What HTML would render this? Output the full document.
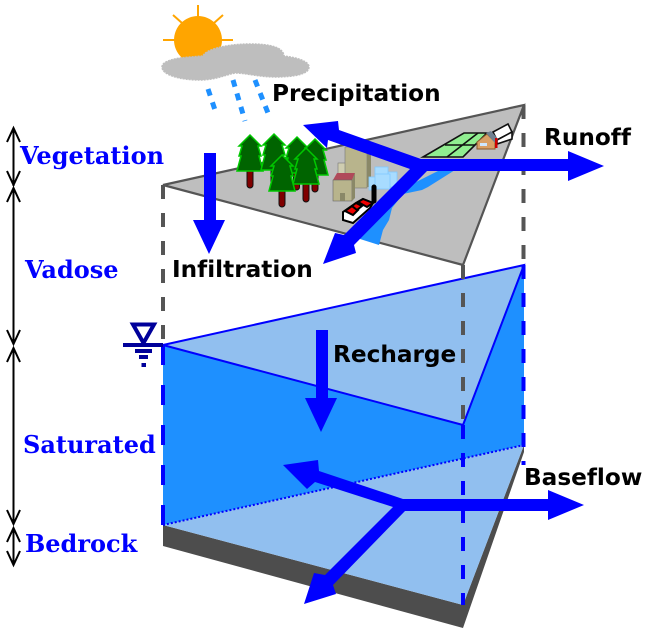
<!DOCTYPE html>
<html>
<head>
<meta charset="utf-8">
<style>
html,body{margin:0;padding:0;background:#fff}
svg{display:block}
.l{font-family:"DejaVu Sans","Liberation Sans",sans-serif;font-weight:bold;font-size:23.2px;fill:#000;font-variant-ligatures:none}
.z{font-family:"DejaVu Serif","Liberation Serif",serif;font-weight:bold;font-size:24px;fill:#0000ff;font-variant-ligatures:none}
</style>
</head>
<body>
<svg width="649" height="636" viewBox="0 0 649 636" xmlns="http://www.w3.org/2000/svg">
<defs>
<g id="t1">
<path d="M0,0 L11,11 L8,11 L11,21 L9,21 L13,36 L-13,36 L-9,21 L-11,21 L-8,11 L-11,11 Z" fill="#006400" stroke="#00c800" stroke-width="1.5"/>
</g>
</defs>

<!-- bedrock -->
<polygon points="163,525 463,605 524,445 524,452 463,628 163,546" fill="#4d4d4d"/>
<!-- bottom plane -->
<polygon points="163,525 524,445 463,605" fill="#91bfef"/>
<!-- saturated -->
<polygon points="163,345 463,425 524,265 524,445 163,525" fill="#1e90ff"/>
<!-- water table -->
<polygon points="163,345 524,265 463,425" fill="#91bfef" stroke="#0000ff" stroke-width="2"/>
<line x1="163" y1="525" x2="524" y2="445" stroke="#0000ff" stroke-width="2" stroke-dasharray="2 2"/>

<!-- grey dashes -->
<g stroke="#555" stroke-width="4" fill="none">
<line x1="163" y1="185" x2="163" y2="345" stroke-dasharray="14 14"/>
<line x1="463" y1="265" x2="463" y2="425" stroke-dasharray="14 14"/>
<line x1="523.500" y1="105" x2="523.500" y2="265" stroke-dasharray="14 14"/>
</g>
<!-- blue dashes -->
<g stroke="#0000ff" stroke-width="4" fill="none">
<line x1="163" y1="345" x2="163" y2="527" stroke-dasharray="20 20"/>
<line x1="463" y1="425" x2="463" y2="605" stroke-dasharray="14 14"/>
<line x1="523.500" y1="265" x2="523.500" y2="465" stroke-dasharray="14 14"/>
</g>

<!-- top surface -->
<polygon points="163,185 524,105 463,265" fill="#bebebe" stroke="#555" stroke-width="2.2"/>

<!-- river -->
<polygon points="440,170 455,170 428,187 422,190 403,194 392,208 389,220 383,230 379,245 360,239 400,190 420,180" fill="#1e90ff"/>

<!-- field -->
<polygon points="464,133 487,133 463,157 423,157" fill="#90ee90" stroke="#111" stroke-width="1.6"/>
<path d="M445,145 H475 M447,157 L478,133" stroke="#111" stroke-width="1.6" fill="none"/>
<g stroke="#111" stroke-width="1.6" fill="#fff">
<polygon points="493,132 508,124 512,132 497,140"/>
<polygon points="497,140 512,132 512,139 497,144"/>
</g>
<polygon points="477,142 487,134 495,142 495,149 477,149" fill="#d9a066" stroke="#8b5a2b" stroke-width="1"/>
<polygon points="486,133 491,131 498,139 495,143" fill="#708090"/>
<rect x="480" y="143" width="7" height="3" fill="#cfe8ff"/>
<rect x="495" y="138" width="2.500" height="10" fill="#d00000"/>

<!-- buildings -->
<rect x="338" y="163" width="8" height="14" fill="#cfcdb0" stroke="#777" stroke-width=".6"/>
<rect x="345" y="147" width="22" height="41" fill="#b8b48c" stroke="#777" stroke-width=".6"/>
<rect x="367" y="150" width="4" height="37" fill="#8a8868"/>
<polygon points="337,173 355,173 352,180 333,180" fill="#b04a5a"/>
<rect x="333" y="180" width="19" height="21" fill="#b8b48c" stroke="#666" stroke-width=".6"/>
<polygon points="352,180 355,173 355,198 352,201" fill="#8a8868"/>
<rect x="340" y="193" width="5" height="8" fill="#8a8868"/>
<g fill="#a8dcff" stroke="#80c8ff" stroke-width=".8">
<rect x="369" y="177" width="7" height="13"/>
<rect x="388" y="172" width="9" height="15"/>
<rect x="375" y="167" width="13" height="8"/>
<rect x="375" y="174" width="15" height="15"/>
</g>
<line x1="374" y1="187" x2="374" y2="201" stroke="#000" stroke-width="5" stroke-linecap="round"/>
<g stroke="#000" stroke-width="2">
<polygon points="343,212 343,220 353,223 370,208 373,203 363,199 356,203" fill="#fff"/>
<polygon points="345,211 352,206 358,210 353,215" fill="#f00000"/>
<polygon points="356,203 362,206 357,210 352,206" fill="#f00000"/>
<polygon points="363,199 373,203 367,207 358,202" fill="#f00000"/>
</g>

<!-- trees -->
<rect x="247" y="165" width="6" height="23" rx="3" fill="#800000" stroke="#111"/>
<use href="#t1" x="250" y="135"/>
<rect x="271" y="165" width="6" height="24" rx="3" fill="#800000" stroke="#111"/>
<use href="#t1" x="274" y="134"/>
<rect x="293.500" y="167" width="6" height="23" rx="3" fill="#800000" stroke="#111"/>
<use href="#t1" x="297" y="137"/>
<rect x="312" y="170" width="6" height="22" rx="3" fill="#800000" stroke="#111"/>
<use href="#t1" x="315" y="139"/>
<rect x="303" y="180" width="6" height="22" rx="3" fill="#800000" stroke="#111"/>
<use href="#t1" x="306" y="148"/>
<rect x="279" y="185" width="6" height="22" rx="3" fill="#800000" stroke="#111"/>
<use href="#t1" x="282" y="155"/>

<!-- sun -->
<circle cx="198" cy="40" r="24" fill="#ffa500"/>
<g stroke="#ffa500" stroke-width="2">
<line x1="198" y1="5" x2="198" y2="20"/>
<line x1="163" y1="40" x2="178" y2="40"/>
<line x1="218" y1="40" x2="233" y2="40"/>
<line x1="173" y1="15" x2="182" y2="23"/>
<line x1="223" y1="15" x2="214" y2="23"/>
</g>
<!-- cloud -->
<path d="M162,67 C162,61 175,58 190,57 L203,56 C205,50 225,44 250,44 C270,44 283,47 284,56 C300,58 309,62 309,67 C309,74 295,77 275,77 C260,77 245,73 235,73 C225,75 215,80 200,80 C180,80 162,75 162,67 Z" fill="#bebebe" stroke="#bebebe" stroke-width="1.500" stroke-dasharray="2 1"/>
<!-- rain -->
<g stroke="#1e90ff" stroke-width="5" fill="none" stroke-dasharray="7 7">
<line x1="208" y1="89" x2="215" y2="110"/>
<line x1="233" y1="80" x2="245" y2="121"/>
<line x1="255" y1="80" x2="268" y2="113"/>
</g>

<!-- arrows -->
<g fill="#0000ff">
<polygon points="204,153 216,153 216,220 225,220 209,254 193,220 204,220"/>
<polygon points="316,330 328,330 328,398 337,398 321,432 305,398 316,398"/>
<polygon points="303,125 338,121 339,130 421,159 568,159 568,151 604,166 568,181 568,171 427,171 354,245 356,253 323,264 335,233 344,235 410,169 328,140 327,148"/>
<polygon points="283,465 318,460 319,471 403,499 548,499 548,490 584,505 548,520 548,511 405,511 333,585 336,594 304,604 314,573 325,575 393,507 315,482 307,489"/>
</g>

<!-- water table symbol -->
<g fill="#00009a">
<polygon points="133,324.500 154,324.500 143.500,343" fill="none" stroke="#00009a" stroke-width="4"/>
<rect x="123" y="343" width="40" height="4"/>
<rect x="135" y="349" width="17" height="4"/>
<rect x="139" y="355" width="9" height="4"/>
<rect x="141.500" y="363" width="4.500" height="4"/>
</g>

<!-- dimension arrows -->
<g stroke="#000" stroke-width="2" fill="none">
<path d="M13.500,128 V186 M7,142 L13.500,128 L20,142 M7,171 L13.500,185 L20,171"/>
<path d="M13.500,188 V344 M7,202 L13.500,188 L20,202 M7,330 L13.500,344 L20,330"/>
<path d="M13.500,348 V524 M7,362 L13.500,348 L20,362 M7,510 L13.500,524 L20,510"/>
<path d="M13.500,528 V565 M7,542 L13.500,528 L20,542 M7,551 L13.500,565 L20,551"/>
</g>

<text class="z" x="20" y="164">Vegetation</text>
<text class="z" x="25" y="278">Vadose</text>
<text class="z" x="23" y="453">Saturated</text>
<text class="z" x="25" y="552">Bedrock</text>
<text class="l" x="272" y="101">Precipitation</text>
<text class="l" x="172" y="277">Infiltration</text>
<text class="l" x="333" y="362">Recharge</text>
<text class="l" x="544" y="145">Runoff</text>
<text class="l" x="524" y="485">Baseflow</text>
</svg>
</body>
</html>
